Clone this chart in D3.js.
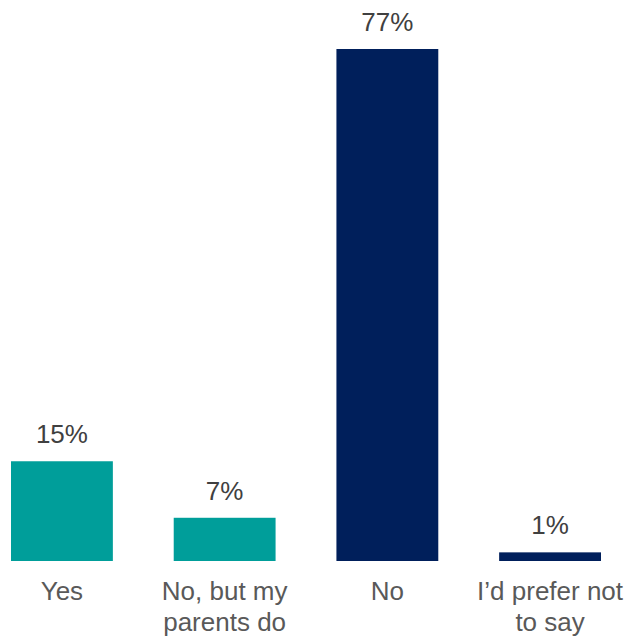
<!DOCTYPE html>
<html>
<head>
<meta charset="utf-8">
<script src="https://cdn.jsdelivr.net/npm/d3@7"></script>
<style>
    body { margin: 0; background: #ffffff; }
    svg text { font-family: "Liberation Sans", Arial, sans-serif; }
</style>
</head>
<body>
<div class="visualGraph"></div>
<script>
// chart data
const categories = ["Yes", "No, but my parents do", "No", "I\u2019d prefer not to say"];
const labelLines = [["Yes"], ["No, but my", "parents do"], ["No"], ["I\u2019d prefer not", "to say"]];
const values = [15, 6.5, 77, 1.3];
const valueLabels = ["15%", "7%", "77%", "1%"];
const groups = ["teal", "teal", "navy", "navy"];

const width = 631;
const height = 637;
const baseline = 561;
const colors = { teal: "#009e9a", navy: "#001f5b" };

const svg = d3.select(".visualGraph")
    .append("svg")
    .attr("width", width)
    .attr("height", height)
    .attr("viewBox", [0, 0, width, height]);

// scales
const x = d3.scaleBand()
    .domain(categories)
    .range([11, 601])
    .paddingInner(0.374)
    .paddingOuter(0);

const y = d3.scaleLinear()
    .domain([0, 77])
    .range([baseline, 49]);

// bars
svg.append("g")
    .selectAll("rect")
    .data(categories)
    .join("rect")
    .attr("x", d => x(d))
    .attr("y", (d, i) => y(values[i]))
    .attr("width", x.bandwidth())
    .attr("height", (d, i) => y(0) - y(values[i]))
    .attr("fill", (d, i) => colors[groups[i]]);

// value labels above bars
svg.append("g")
    .selectAll("text")
    .data(categories)
    .join("text")
    .attr("x", d => x(d) + x.bandwidth() / 2)
    .attr("y", (d, i) => y(values[i]) - 18)
    .attr("text-anchor", "middle")
    .attr("font-size", 26)
    .attr("fill", "#404040")
    .text((d, i) => valueLabels[i]);

// category labels
const cat = svg.append("g")
    .selectAll("text")
    .data(categories)
    .join("text")
    .attr("x", d => x(d) + x.bandwidth() / 2)
    .attr("y", 600)
    .attr("text-anchor", "middle")
    .attr("font-size", 26)
    .attr("fill", "#595959");

cat.selectAll("tspan")
    .data((d, i) => labelLines[i])
    .join("tspan")
    .attr("x", function () { return d3.select(this.parentNode).attr("x"); })
    .attr("dy", (d, i) => i === 0 ? 0 : 31)
    .text(d => d);
</script>
</body>
</html>
